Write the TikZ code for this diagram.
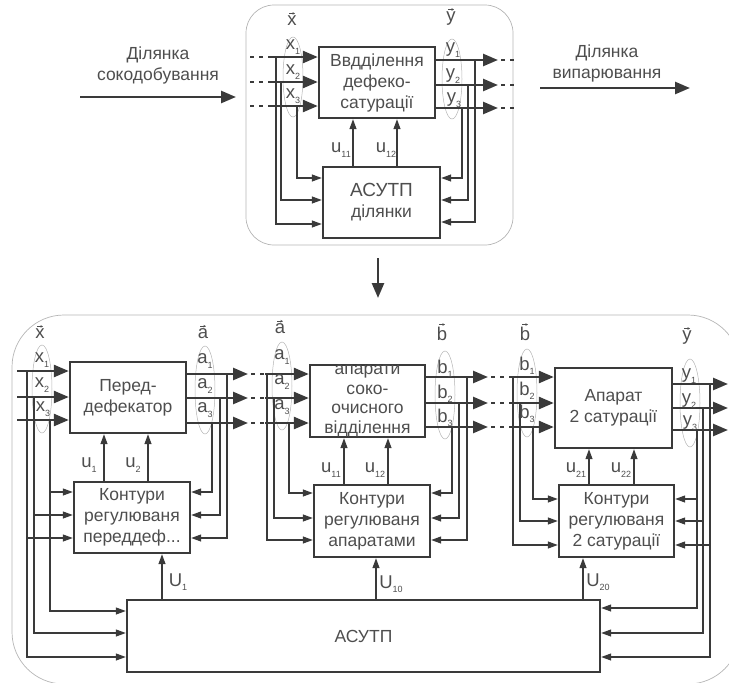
\documentclass[tikz,border=0pt]{standalone}
\usepackage{fontspec}
\setmainfont{Liberation Sans}
\usetikzlibrary{arrows.meta}
\definecolor{dc}{HTML}{3A3A3A}
\definecolor{tc}{HTML}{4E4E4E}
\definecolor{lc}{HTML}{B4B4B4}
\newcommand{\lidx}[1]{\raisebox{-0.45ex}{\fontsize{9}{9}\selectfont #1}}
\begin{document}
\begin{tikzpicture}[x=1pt, y=-1pt, font=\fontsize{17.5}{21}\selectfont, text=tc,
  mainar/.style={draw=dc, line width=2.6pt, -{Triangle[length=15pt,width=12pt]}},
  fbar/.style={draw=dc, line width=1.2pt, -{Triangle[length=10pt,width=7pt]}},
  dsh/.style={draw=dc, line width=1.6pt, dash pattern=on 4pt off 5pt},
  blk/.style={draw=dc, line width=2.4pt, fill=white, align=center, inner sep=0pt},
  frame/.style={draw=lc, line width=0.7pt},
  ell/.style={draw=lc, line width=0.5pt},
  lbl/.style={inner sep=0pt, text=tc, font=\fontsize{18.5}{18.5}\selectfont},
  vecmk/.style={draw=tc, line width=0.6pt, -{Stealth[length=2.5pt,width=2.5pt]}}]
\useasboundingbox (0,0) rectangle (729,683);
\begin{scope}
\clip (0,0) rectangle (729,683);
% frames
\draw[frame, rounded corners=28pt] (246,5) rectangle (513,245);
\draw[frame, rounded corners=52pt] (12,315) rectangle (740,684);
% ellipses
\draw[ell] (293,77) ellipse [x radius=10, y radius=40];
\draw[ell] (452,79) ellipse [x radius=10, y radius=40];
\draw[ell] (42,389) ellipse [x radius=10, y radius=44];
\draw[ell] (205,390) ellipse [x radius=10, y radius=44];
\draw[ell] (282,386) ellipse [x radius=10, y radius=44];
\draw[ell] (445,395) ellipse [x radius=10, y radius=44];
\draw[ell] (527,393) ellipse [x radius=10, y radius=44];
\draw[ell] (690,403) ellipse [x radius=10, y radius=44];

% ---------------- top section ----------------
\node[blk, minimum width=116pt, minimum height=71pt] (D) at (377,82.5) {Ввдділення\\дефеко-\\сатурації};
\node[blk, minimum width=117pt, minimum height=71pt] (A) at (381.5,202.5) {{\fontsize{19}{21}\selectfont АСУТП}\\ділянки};

\node[inner sep=0pt, align=center] (lsok) at (158,65) {Ділянка\\сокодобування};
\node[inner sep=0pt, align=center] (lvyp) at (607,63) {Ділянка\\випарювання};
\coordinate (sokA) at (80,97);  \coordinate (sokB) at (236,97);
\coordinate (vypA) at (540,88); \coordinate (vypB) at (690,88);
\draw[mainar] (sokA) -- (sokB);
\draw[mainar] (vypA) -- (vypB);

\foreach \i/\y in {1/57,2/82,3/106}{
  \coordinate (td\i) at (250,\y);
  \coordinate (ts\i) at (272,\y);
}
\foreach \i in {1,2,3}{
  \draw[dsh] (td\i) -- (ts\i);
  \draw[mainar] (ts\i) -- (D.west |- ts\i);
}
\foreach \i/\y in {1/60,2/85,3/108}{
  \coordinate (te\i) at (498,\y);
  \coordinate (tf\i) at (501,\y);
  \coordinate (tg\i) at (515,\y);
}
\foreach \i in {1,2,3}{
  \draw[mainar] (D.east |- te\i) -- (te\i);
  \draw[dsh] (tf\i) -- (tg\i);
}
\draw[fbar] (276,57) |- (A.west |- 0,224);
\draw[fbar] (281,82) |- (A.west |- 0,200);
\draw[fbar] (297,106) |- (A.west |- 0,178);
\draw[fbar] (475,60) |- (A.east |- 0,222);
\draw[fbar] (468,85) |- (A.east |- 0,200);
\draw[fbar] (462,108) |- (A.east |- 0,178);
\draw[fbar] (A.north -| 353,0) -- (D.south -| 353,0);
\draw[fbar] (A.north -| 397,0) -- (D.south -| 397,0);

\node[lbl] (tvx) at (292,21) {x};
\node[lbl] (tx1) at (293,47) {x\lidx{1}};
\node[lbl] (tx2) at (293,72) {x\lidx{2}};
\node[lbl] (tx3) at (293,96) {x\lidx{3}};
\node[lbl] (tvy) at (451,19) {y};
\node[lbl] (ty1) at (453,50) {y\lidx{1}};
\node[lbl] (ty2) at (453,76) {y\lidx{2}};
\node[lbl] (ty3) at (454,100) {y\lidx{3}};
\node[lbl] (tu11) at (341,150) {u\lidx{11}};
\node[lbl] (tu12) at (386,150) {u\lidx{12}};

\coordinate (dnA) at (378,258); \coordinate (dnB) at (378,298);
\draw[mainar] (dnA) -- (dnB);

% ---------------- bottom section ----------------
\node[blk, minimum width=116pt, minimum height=71pt] (B1) at (128,397.5) {Перед-\\дефекатор};
\node[blk, minimum width=115pt, minimum height=72pt, font=\fontsize{17.5}{19.5}\selectfont] (B2) at (367.5,401) {апарати\\соко-\\очисного\\відділення};
\node[blk, minimum width=117pt, minimum height=80pt] (B3) at (613.5,408) {Апарат\\2 сатурації};
\node[blk, minimum width=116pt, minimum height=71pt] (K1) at (132,517.5) {Контури\\регулюваня\\переддеф...};
\node[blk, minimum width=116pt, minimum height=72pt] (K2) at (372,521) {Контури\\регулюваня\\апаратами};
\node[blk, minimum width=115pt, minimum height=72pt] (K3) at (616.5,521) {Контури\\регулюваня\\2 сатурації};
\node[blk, minimum width=473pt, minimum height=72pt] (S) at (363.5,636) {АСУТП};

% main flow
\foreach \i/\y in {1/371,2/397,3/420}{ \coordinate (bi\i) at (17,\y); }
\foreach \i in {1,2,3}{ \draw[mainar] (bi\i) -- (B1.west |- bi\i); }
\foreach \i/\y in {1/374,2/398,3/423}{
  \coordinate (ae\i) at (248,\y);
  \coordinate (af\i) at (251,\y);
  \coordinate (ag\i) at (265,\y);
}
\foreach \i in {1,2,3}{
  \draw[mainar] (B1.east |- ae\i) -- (ae\i);
  \draw[dsh] (af\i) -- (ag\i);
  \draw[mainar] (ag\i) -- (B2.west |- ag\i);
}
\foreach \i/\y in {1/377,2/403,3/427}{
  \coordinate (be\i) at (488,\y);
  \coordinate (bf\i) at (491,\y);
  \coordinate (bg\i) at (510,\y);
}
\foreach \i in {1,2,3}{
  \draw[mainar] (B2.east |- be\i) -- (be\i);
  \draw[dsh] (bf\i) -- (bg\i);
  \draw[mainar] (bg\i) -- (B3.west |- bg\i);
}
\foreach \i/\y in {1/384,2/408,3/430}{ \coordinate (ye\i) at (728,\y); }
\foreach \i in {1,2,3}{ \draw[mainar] (B3.east |- ye\i) -- (ye\i); }

% feedback, block 1
\draw[fbar] (27,371) |- (S.west |- 0,657);
\draw[fbar] (34,397) |- (S.west |- 0,633);
\draw[fbar] (50,420) |- (S.west |- 0,611);
\draw[fbar] (50,492) -- (K1.west |- 0,492);
\draw[fbar] (34,515) -- (K1.west |- 0,515);
\draw[fbar] (27,538) -- (K1.west |- 0,538);
\draw[fbar] (212,423) |- (K1.east |- 0,492);
\draw[fbar] (220,398) |- (K1.east |- 0,515);
\draw[fbar] (227,374) |- (K1.east |- 0,538);
% feedback, block 2
\draw[fbar] (289,423) |- (K2.west |- 0,493);
\draw[fbar] (274,398) |- (K2.west |- 0,518);
\draw[fbar] (267,374) |- (K2.west |- 0,540);
\draw[fbar] (452,427) |- (K2.east |- 0,493);
\draw[fbar] (459,403) |- (K2.east |- 0,518);
\draw[fbar] (467,377) |- (K2.east |- 0,540);
% feedback, block 3
\draw[fbar] (533,427) |- (K3.west |- 0,499);
\draw[fbar] (520,403) |- (K3.west |- 0,521);
\draw[fbar] (513,377) |- (K3.west |- 0,545);
\draw[fbar] (697,430) |- (S.east |- 0,608);
\draw[fbar] (703,408) |- (S.east |- 0,633);
\draw[fbar] (710,384) |- (S.east |- 0,657);
\draw[fbar] (697,499) -- (K3.east |- 0,499);
\draw[fbar] (703,521) -- (K3.east |- 0,521);
\draw[fbar] (710,545) -- (K3.east |- 0,545);

% controls
\draw[fbar] (K1.north -| 104,0) -- (B1.south -| 104,0);
\draw[fbar] (K1.north -| 148,0) -- (B1.south -| 148,0);
\draw[fbar] (K2.north -| 344,0) -- (B2.south -| 344,0);
\draw[fbar] (K2.north -| 388,0) -- (B2.south -| 388,0);
\draw[fbar] (K3.north -| 589,0) -- (B3.south -| 589,0);
\draw[fbar] (K3.north -| 634,0) -- (B3.south -| 634,0);
\draw[fbar] (S.north -| 162,0) -- (K1.south -| 162,0);
\draw[fbar] (S.north -| 376,0) -- (K2.south -| 376,0);
\draw[fbar] (S.north -| 583,0) -- (K3.south -| 583,0);

% labels
\node[lbl] (bvx) at (40,334) {x};
\node[lbl] (bx1) at (42,360) {x\lidx{1}};
\node[lbl] (bx2) at (42,385) {x\lidx{2}};
\node[lbl] (bx3) at (43,409) {x\lidx{3}};
\node[lbl] (bva) at (203,334) {a};
\node[lbl] (ba1) at (205,361) {a\lidx{1}};
\node[lbl] (ba2) at (205,386) {a\lidx{2}};
\node[lbl] (ba3) at (205,410) {a\lidx{3}};
\node[lbl] (cva) at (280,329) {a};
\node[lbl] (ca1) at (282,357) {a\lidx{1}};
\node[lbl] (ca2) at (282,382) {a\lidx{2}};
\node[lbl] (ca3) at (282,407) {a\lidx{3}};
\node[lbl] (cvb) at (442,334) {b};
\node[lbl] (cb1) at (445,369) {b\lidx{1}};
\node[lbl] (cb2) at (445,394) {b\lidx{2}};
\node[lbl] (cb3) at (445,418) {b\lidx{3}};
\node[lbl] (dvb) at (525,334) {b};
\node[lbl] (db1) at (527,366) {b\lidx{1}};
\node[lbl] (db2) at (527,391) {b\lidx{2}};
\node[lbl] (db3) at (527,414) {b\lidx{3}};
\node[lbl] (dvy) at (687,338) {y};
\node[lbl] (dy1) at (689,376) {y\lidx{1}};
\node[lbl] (dy2) at (689,401) {y\lidx{2}};
\node[lbl] (dy3) at (690,423) {y\lidx{3}};
\foreach \n in {tvx,tvy,bvx,bva,cva,cvb,dvb,dvy}{
  \draw[vecmk] ([xshift=-3pt,yshift=2.5pt]\n.north) -- ([xshift=3pt,yshift=2.5pt]\n.north);
}

\node[lbl] (lu1) at (89,465) {u\lidx{1}};
\node[lbl] (lu2) at (133,465) {u\lidx{2}};
\node[lbl] (lu11) at (331,470) {u\lidx{11}};
\node[lbl] (lu12) at (375,470) {u\lidx{12}};
\node[lbl] (lu21) at (576,470) {u\lidx{21}};
\node[lbl] (lu22) at (621,470) {u\lidx{22}};
\node[lbl] (lU1) at (178,582) {U\lidx{1}};
\node[lbl] (lU10) at (391,584) {U\lidx{10}};
\node[lbl] (lU20) at (598,582) {U\lidx{20}};
\end{scope}
\end{tikzpicture}
\end{document}
